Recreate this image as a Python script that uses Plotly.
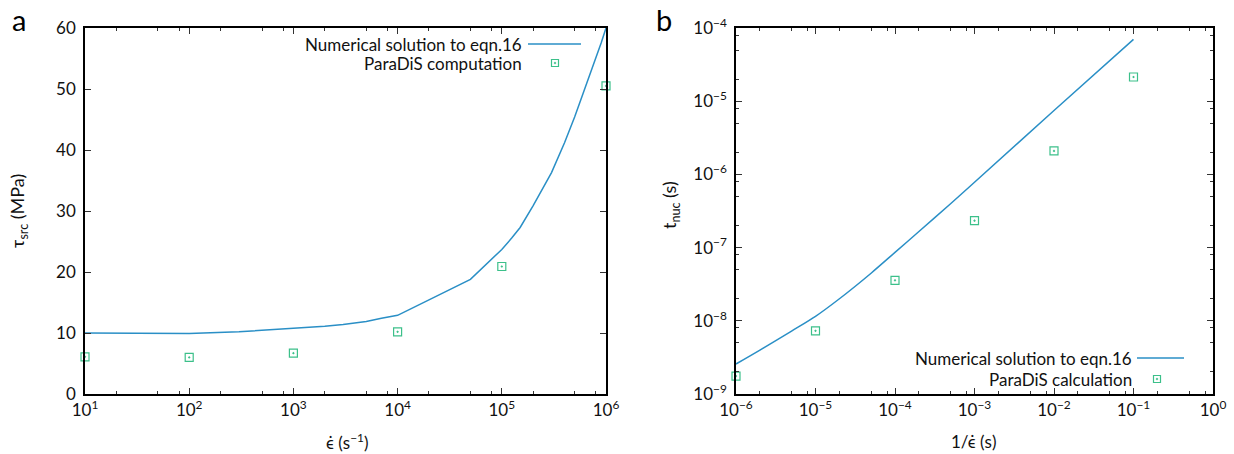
import plotly.graph_objects as go

# ---------------- data ----------------
# panel a: source stress vs strain rate
rate_line = [10, 30, 100, 300, 1000, 2000, 3000, 5000, 7000, 1e4, 5e4, 1e5,
             1.25e5, 1.5e5, 2e5, 2.5e5, 3e5, 4e5, 5e5, 6e5, 7e5, 8e5, 9e5, 1e6]
tau_line = [10.0, 10.0, 9.9, 10.2, 10.7, 11.1, 11.4, 11.9, 12.4, 12.9, 18.8, 23.7,
            25.6, 27.3, 30.9, 33.9, 36.3, 41.2, 45.4, 49.2, 52.3, 55.1, 57.6, 60.0]
rate_pts = [10, 100, 1000, 1e4, 1e5, 1e6]
tau_pts = [6.1, 6.0, 6.7, 10.2, 20.9, 50.5]

# panel b: nucleation time vs 1/strain rate
inv_line = [1e-6, 2e-6, 5e-6, 1e-5, 2e-5, 5e-5, 1e-4, 2e-4, 5e-4, 1e-3, 1e-2, 1e-1]
tnuc_line = [2.57e-9, 3.98e-9, 7.24e-9, 1.15e-8, 2.0e-8, 4.47e-8, 8.6e-8, 1.66e-7,
             3.98e-7, 7.8e-7, 7.45e-6, 7.0e-5]
inv_pts = [1e-6, 1e-5, 1e-4, 1e-3, 1e-2, 1e-1]
tnuc_pts = [1.76e-9, 7.3e-9, 3.57e-8, 2.33e-7, 2.09e-6, 2.14e-5]

xa_tickvals = [1e1, 1e2, 1e3, 1e4, 1e5, 1e6]
xa_ticktext = ["10<sup>1</sup>", "10<sup>2</sup>", "10<sup>3</sup>", "10<sup>4</sup>",
               "10<sup>5</sup>", "10<sup>6</sup>"]
ya_tickvals = [0, 10, 20, 30, 40, 50, 60]
xb_tickvals = [1e-6, 1e-5, 1e-4, 1e-3, 1e-2, 1e-1, 1e0]
xb_ticktext = ["10<sup>−6</sup>", "10<sup>−5</sup>", "10<sup>−4</sup>", "10<sup>−3</sup>",
               "10<sup>−2</sup>", "10<sup>−1</sup>", "10<sup>0</sup>"]
yb_tickvals = [1e-9, 1e-8, 1e-7, 1e-6, 1e-5, 1e-4]
yb_ticktext = ["10<sup>−9</sup>", "10<sup>−8</sup>", "10<sup>−7</sup>", "10<sup>−6</sup>",
               "10<sup>−5</sup>", "10<sup>−4</sup>"]

LINE_COLOR = "#2a8fc6"
PT_COLOR = "#3cc08a"
FONT = "Lato"
FS = 17

fig = go.Figure()
fig.add_trace(go.Scatter(x=rate_line, y=tau_line, mode="lines",
                         line=dict(color=LINE_COLOR, width=1.5),
                         xaxis="x", yaxis="y", showlegend=False))
fig.add_trace(go.Scatter(x=rate_pts, y=tau_pts, mode="markers",
                         marker=dict(symbol="square-open-dot", size=8, color=PT_COLOR,
                                     line=dict(width=1.2, color=PT_COLOR)),
                         xaxis="x", yaxis="y", showlegend=False, cliponaxis=False))
fig.add_trace(go.Scatter(x=inv_line, y=tnuc_line, mode="lines",
                         line=dict(color=LINE_COLOR, width=1.5, shape="spline", smoothing=0.8),
                         xaxis="x2", yaxis="y2", showlegend=False))
fig.add_trace(go.Scatter(x=inv_pts, y=tnuc_pts, mode="markers",
                         marker=dict(symbol="square-open-dot", size=8, color=PT_COLOR,
                                     line=dict(width=1.2, color=PT_COLOR)),
                         xaxis="x2", yaxis="y2", showlegend=False, cliponaxis=False))


def minor_log(lo, hi, mult=(2, 5, 8)):
    vals = []
    for e in range(lo, hi):
        for m in mult:
            vals.append(m * 10 ** e)
    return vals


axis_common = dict(showline=True, linecolor="black", linewidth=1.5, mirror="ticks",
                   ticks="inside", ticklen=6, tickwidth=1.2, tickcolor="#333",
                   showgrid=False, zeroline=False,
                   tickfont=dict(family=FONT, size=FS, color="#111"))

L, R, T, B = 85, 21, 28, 60
W, H = 1234, 454
pw = W - L - R
ph = H - T - B


def px(X):
    return (X - L) / pw


def py(Y):
    return (H - B - Y) / ph


fig.update_layout(
    width=W, height=H, autosize=False,
    margin=dict(l=L, r=R, t=T, b=B, autoexpand=False),
    plot_bgcolor="white", paper_bgcolor="white",
    font=dict(family=FONT, size=FS, color="#111"),
    xaxis=dict(type="log", range=[1, 6], domain=[0, px(606)], anchor="y",
               tickvals=xa_tickvals, ticktext=xa_ticktext,
               minor=dict(tickvals=minor_log(1, 6), ticks="inside", ticklen=3,
                          tickcolor="#333"),
               **axis_common),
    yaxis=dict(range=[0, 60], domain=[0, 1], anchor="x",
               tickvals=ya_tickvals, ticklabelstandoff=4, **axis_common),
    xaxis2=dict(type="log", range=[-6, 0], domain=[px(736), 1], anchor="y2",
                tickvals=xb_tickvals, ticktext=xb_ticktext,
                minor=dict(tickvals=minor_log(-6, 0), ticks="inside", ticklen=3,
                           tickcolor="#333"),
                **axis_common),
    yaxis2=dict(type="log", range=[-9, -4], domain=[0, 1], anchor="x2",
                tickvals=yb_tickvals, ticktext=yb_ticktext, ticklabelstandoff=4,
                minor=dict(tickvals=minor_log(-9, -4), ticks="inside", ticklen=3,
                           tickcolor="#333"),
                **axis_common),
)


def label(text, X, Y, size=FS, angle=0, xanchor="center", color="#111", pad=1):
    return dict(text=text, x=px(X), y=py(Y), xref="paper", yref="paper",
                xanchor=xanchor, yanchor="middle", showarrow=False, textangle=angle,
                borderpad=pad, font=dict(family=FONT, size=size, color=color))


ann = []
# panel letters
ann.append(label("a", 19, 20, size=29, color="black", pad=0))
ann.append(label("b", 664, 20, size=29, color="black", pad=0))
# axis titles
ann.append(label("ϵ̇ (s<sup>−1</sup>)", 347, 441))
ann.append(label("1/ϵ̇ (s)", 974, 441))
ann.append(label("τ<sub>src</sub> (MPa)", 18, 211, size=FS + 1, angle=-90))
ann.append(label("t<sub>nuc</sub> (s)", 670, 205, size=FS + 1, angle=-90))

# legends (gnuplot style: text then sample on the right)
legend_rows = [
    ("Numerical solution to eqn.16", 524, 44, "line", 528, 581),
    ("ParaDiS computation", 524, 63, "pt", 555, None),
    ("Numerical solution to eqn.16", 1134, 358, "line", 1137, 1184),
    ("ParaDiS calculation", 1134, 379, "pt", 1157, None),
]
shapes = []
for text, xr, yc, kind, s0, s1 in legend_rows:
    ann.append(label(text, xr, yc, xanchor="right"))
    if kind == "line":
        shapes.append(dict(type="line", xref="paper", yref="paper",
                           x0=px(s0), x1=px(s1), y0=py(yc), y1=py(yc),
                           line=dict(color=LINE_COLOR, width=1.5)))
    else:
        shapes.append(dict(type="rect", xref="paper", yref="paper",
                           x0=px(s0 - 3.5), x1=px(s0 + 3.5), y0=py(yc - 3.5), y1=py(yc + 3.5),
                           line=dict(color=PT_COLOR, width=1.2)))
        shapes.append(dict(type="rect", xref="paper", yref="paper",
                           x0=px(s0 - 0.7), x1=px(s0 + 0.7), y0=py(yc - 0.7), y1=py(yc + 0.7),
                           line=dict(color=PT_COLOR, width=0.6), fillcolor=PT_COLOR))

fig.update_layout(annotations=ann, shapes=shapes)

fig.write_html("out.html", config={"displayModeBar": False},
               post_script="document.body.style.margin='0';document.body.style.overflow='hidden';")
